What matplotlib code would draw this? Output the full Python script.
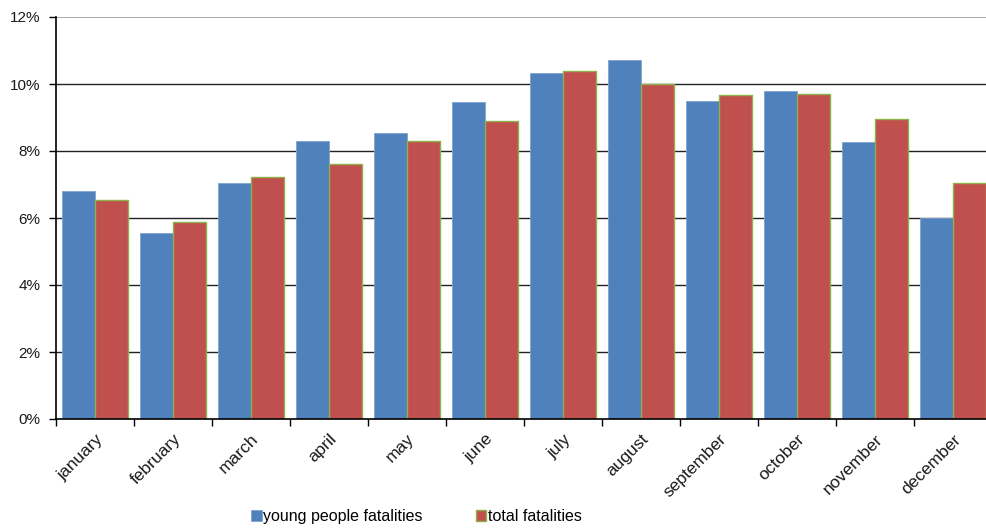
import numpy as np
import matplotlib.pyplot as plt
from matplotlib.ticker import FuncFormatter, FixedLocator

plt.rcParams['font.family'] = ['Liberation Sans', 'DejaVu Sans']

# data (percent)
months = ["january", "february", "march", "april", "may", "june",
          "july", "august", "september", "october", "november", "december"]
young = [6.82, 5.55, 7.04, 8.30, 8.55, 9.46, 10.32, 10.72, 9.49, 9.78, 8.26, 6.01]
total = [6.53, 5.88, 7.22, 7.61, 8.29, 8.90, 10.38, 10.01, 9.66, 9.71, 8.95, 7.04]

x = np.arange(len(months))
w = 0.417

fig = plt.figure(figsize=(9.87, 5.29), dpi=100)
ax = fig.add_axes([56 / 987, 110 / 529, 936 / 987, 402 / 529])

ax.bar(x - w / 2, young, w, color='#4F81BD', edgecolor='#7FA3D0', linewidth=0.6,
       label='young people fatalities', zorder=3)
ax.bar(x + w / 2, total, w, color='#C0504D', edgecolor='#8FB04A', linewidth=1.0,
       label='total fatalities', zorder=3)

ax.set_xlim(-0.5, len(months) - 0.5)
ax.set_ylim(0, 12)
ax.set_yticks(np.arange(0, 13, 2))
ax.yaxis.set_major_formatter(FuncFormatter(lambda v, p: f"{v:.0f}%"))

# gridlines (top one lighter)
for yv in range(2, 12, 2):
    ax.axhline(yv, color='#222222', lw=1.0, zorder=1)
ax.axhline(12, color='#999999', lw=1.2, zorder=1)

# category labels at centers, tick marks at group boundaries
ax.xaxis.set_major_locator(FixedLocator(x - 0.5))
ax.xaxis.set_minor_locator(FixedLocator(x))
ax.set_xticklabels([])
ax.set_xticklabels(months, minor=True, rotation=45, ha='right',
                   rotation_mode='anchor', fontsize=12.5, color='#1a1a1a')
ax.tick_params(axis='x', which='minor', length=0, pad=9)
ax.tick_params(axis='x', which='major', length=5, width=1, direction='out')
ax.tick_params(axis='y', length=5, width=1, direction='out', pad=6,
               labelsize=11, labelcolor='#1a1a1a')

for s in ['top', 'right']:
    ax.spines[s].set_visible(False)
ax.spines['left'].set_color('black')
ax.spines['bottom'].set_color('black')
ax.spines['left'].set_linewidth(1.2)
ax.spines['bottom'].set_linewidth(1.2)
ax.spines['left'].set_zorder(4)
ax.spines['bottom'].set_zorder(4)

fig.legend(loc='center', bbox_to_anchor=(0.422, 0.023), ncol=2, frameon=False,
           fontsize=11.5, handlelength=0.65, handleheight=0.65, handletextpad=0.1,
           columnspacing=3.3, borderaxespad=0, borderpad=0)

fig.savefig('out.png', dpi=100)
